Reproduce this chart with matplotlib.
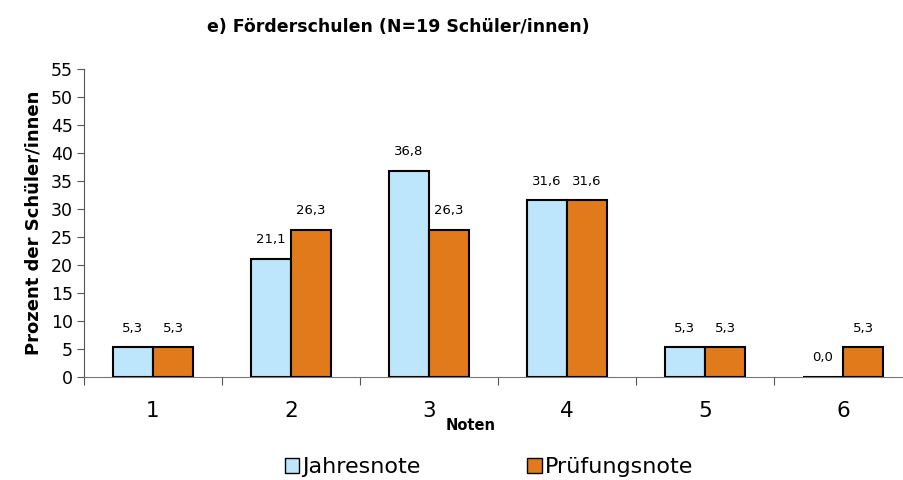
import matplotlib
matplotlib.use("Agg")
from matplotlib import pyplot as plt
from matplotlib.patches import Patch
import numpy as np

plt.rcParams['font.family'] = ['DejaVu Sans']

noten = ['1', '2', '3', '4', '5', '6']
jahresnote = [5.3, 21.1, 36.8, 31.6, 5.3, 0.0]
pruefungsnote = [5.3, 26.3, 26.3, 31.6, 5.3, 5.3]

blau = '#BDE5FB'
orange = '#E07A1A'

fig = plt.figure(figsize=(9.04, 4.8), dpi=100)
ax = fig.add_axes([84 / 904, 1 - 377 / 480, 828 / 904, 308 / 480])

x = np.arange(len(noten))
w = 0.29
ax.bar(x - w / 2, jahresnote, w, color=blau, edgecolor='black', linewidth=1.5)
ax.bar(x + w / 2, pruefungsnote, w, color=orange, edgecolor='black', linewidth=1.5)

def fmt(v):
    return f"{v:.1f}".replace('.', ',')

for i in range(len(noten)):
    ax.annotate(fmt(jahresnote[i]), (x[i] - w / 2, jahresnote[i]), xytext=(0, 9),
                textcoords='offset points', ha='center', va='bottom', fontsize=9.5)
    ax.annotate(fmt(pruefungsnote[i]), (x[i] + w / 2, pruefungsnote[i]), xytext=(0, 9),
                textcoords='offset points', ha='center', va='bottom', fontsize=9.5)

ax.set_xlim(-0.5, len(noten) - 0.5)
ax.set_ylim(0, 55)
ax.set_yticks(range(0, 56, 5))
ax.tick_params(axis='y', labelsize=12.5, length=5, direction='out', color='#555555', pad=3)
ax.set_xticks(np.arange(-0.5, len(noten), 1), minor=False)
ax.set_xticklabels([])
ax.set_xticks(x, minor=True)
ax.set_xticklabels(noten, minor=True, fontsize=15.5)
ax.tick_params(axis='x', which='major', length=6, direction='out', color='#555555')
ax.tick_params(axis='x', which='minor', length=0, pad=17.5)

for s in ['top', 'right']:
    ax.spines[s].set_visible(False)
ax.spines['left'].set_color('#555555')
ax.spines['bottom'].set_color('#777777')

ax.set_ylabel('Prozent der Schüler/innen', fontsize=13, fontweight='bold', labelpad=6)
fig.text(471 / 904, 1 - 425 / 480, 'Noten', ha='center', va='center', fontsize=10.5, fontweight='bold')
fig.text(398 / 904, 1 - 27 / 480, 'e) Förderschulen (N=19 Schüler/innen)', ha='center', va='center',
         fontsize=12.5, fontweight='bold')

handles = [Patch(facecolor=blau, edgecolor='black', label='Jahresnote'),
           Patch(facecolor=orange, edgecolor='black', label='Prüfungsnote')]
fig.legend(handles=handles, loc='center', bbox_to_anchor=(489 / 904, 1 - 467 / 480), ncol=2,
           frameon=False, fontsize=16, handlelength=0.65, handleheight=0.65, handletextpad=0.15,
           columnspacing=4.8)

fig.savefig('out.png', dpi=100)
